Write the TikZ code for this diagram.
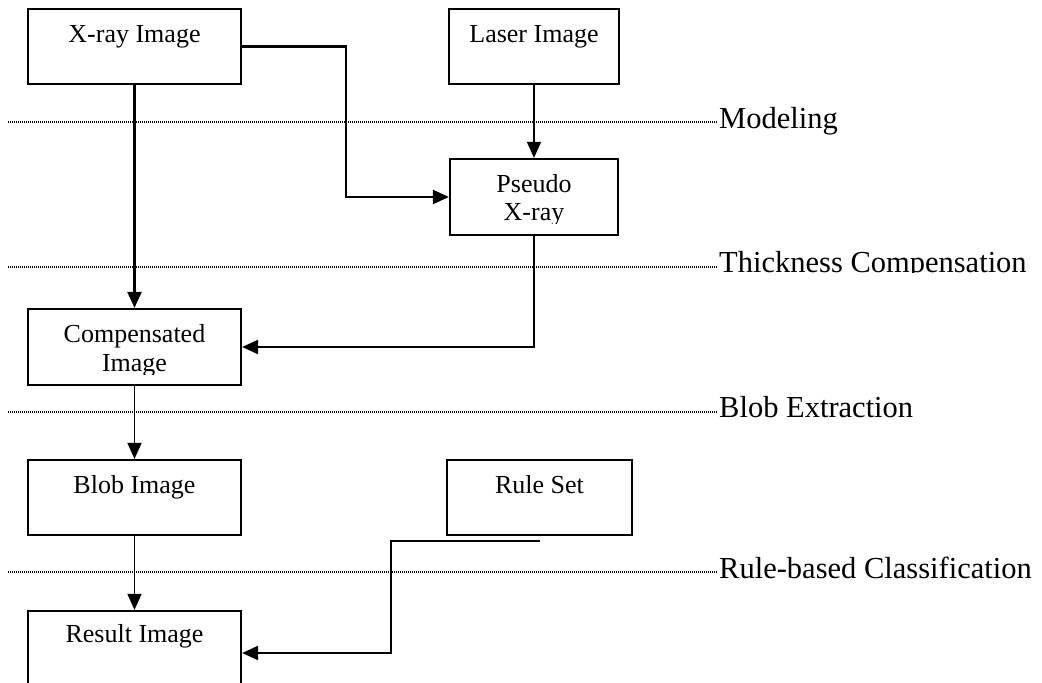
\documentclass[tikz,border=0pt]{standalone}
\usepackage{fontspec}
\setmainfont{Liberation Serif}
\usetikzlibrary{arrows.meta,calc}
\begin{document}
\begin{tikzpicture}[x=1pt,y=-1pt,
  box/.style={draw, line width=2.2pt, inner sep=0pt},
  txt/.style={inner sep=0pt, anchor=base, font=\fontsize{26}{29}\selectfont},
  lab/.style={inner sep=0pt, anchor=base west, font=\fontsize{30.5}{34}\selectfont},
  conn/.style={line width=2.2pt, -{Triangle[length=16pt,width=14pt]}},
  thin/.style={line width=1.6pt},
  dotline/.style={line width=1.1pt, dash pattern=on 1pt off 1pt}]
\clip (0,0) rectangle (1042,683);
% boxes
\node[box, minimum width=213pt, minimum height=75pt] (xray) at (134.5,46.5) {};
\node[box, minimum width=170pt, minimum height=75pt] (laser) at (534,46.5) {};
\node[box, minimum width=168pt, minimum height=76pt] (pseudo) at (534,197) {};
\node[box, minimum width=213pt, minimum height=76pt] (comp) at (134.5,347) {};
\node[box, minimum width=213pt, minimum height=75pt] (blob) at (134.5,497.5) {};
\node[box, minimum width=185pt, minimum height=75pt] (rules) at (539.5,497.5) {};
\node[box, minimum width=213pt, minimum height=84pt] (result) at (134.5,653) {};
% box texts
\node[txt] (txray) at ($(xray.north)+(0,35)$) {X-ray Image};
\node[txt] (tlaser) at ($(laser.north)+(0,35)$) {Laser Image};
\node[txt] (tpseudo) at ($(pseudo.north)+(0,35)$) {Pseudo};
\begin{scope}
\clip (450,200) rectangle (618,223);
\node[txt] (tpseudob) at ($(pseudo.north)+(0,63)$) {X-ray};
\end{scope}
\node[txt] (tcomp) at ($(comp.north)+(0,35)$) {Compensated};
\begin{scope}
\clip (28,350) rectangle (241,374);
\node[txt] (tcompb) at ($(comp.north)+(0,64)$) {Image};
\end{scope}
\node[txt] (tblob) at ($(blob.north)+(0,35)$) {Blob Image};
\node[txt] (trules) at ($(rules.north)+(0,35)$) {Rule Set};
\node[txt] (tresult) at ($(result.north)+(0,33)$) {Result Image};
% stage lines and labels
\draw[dotline] (8,122) -- (717,122);
\node[lab] (lmod) at (719,128) {Modeling};
\draw[dotline] (8,267) -- (717,267);
\begin{scope}
\clip (700,240) rectangle (1042,272.5);
\node[lab] (lthick) at (719,272) {Thickness Compensation};
\end{scope}
\draw[dotline] (8,412) -- (717,412);
\node[lab] (lblob) at (719,417) {Blob Extraction};
\draw[dotline] (8,572) -- (717,572);
\node[lab] (lrule) at (719,578) {Rule-based Classification};
% connectors
\draw[conn] (xray.east) -- ++(104,0) |- (pseudo.west);
\draw[conn, thin] (laser.south) -- (pseudo.north);
\draw[conn] (xray.south) -- (comp.north);
\draw[conn] (pseudo.south) |- (comp.east);
\draw[conn, thin] (comp.south) -- (blob.north);
\draw[conn, thin] (blob.south) -- (result.north);
\coordinate (rs) at ($(rules.south)+(0.5,5)$);
\draw[conn] (rs) -- ++(-149,0) |- (result.east);
\end{tikzpicture}
\end{document}
